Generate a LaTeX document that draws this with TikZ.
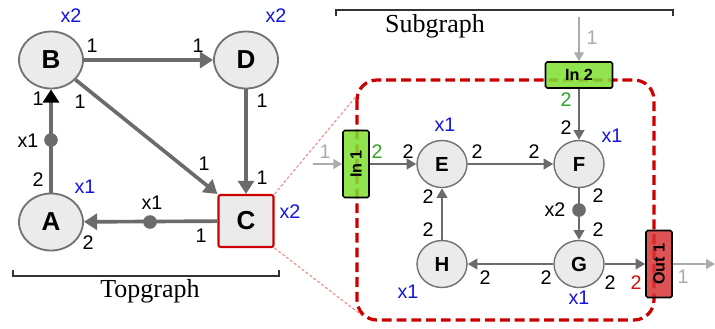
\documentclass[tikz,border=0pt]{standalone}
\usepackage{fontspec}
\setmainfont{Liberation Serif}
\setsansfont{Liberation Sans}
\usetikzlibrary{arrows.meta,shapes.geometric}
\definecolor{ink}{HTML}{000000}
\definecolor{edge}{HTML}{6B6B6B}
\definecolor{faint}{HTML}{ABABAB}
\definecolor{nodefill}{HTML}{EBEBEB}
\definecolor{nodeline}{HTML}{727272}
\definecolor{mult}{HTML}{1414E0}
\definecolor{subred}{HTML}{CC0000}
\definecolor{zoomred}{HTML}{F08C8C}
\definecolor{portgreen}{HTML}{80E030}
\definecolor{portred}{HTML}{D83434}
\definecolor{rategreen}{HTML}{2FA52A}
\definecolor{ratered}{HTML}{D01010}
\definecolor{bracket}{HTML}{333333}
\tikzset{
  top actor/.style={ellipse,draw=nodeline,line width=1.3pt,fill=nodefill,minimum width=16mm,
    minimum height=14.25mm,inner sep=0pt,font=\sffamily\bfseries\fontsize{18.5}{22}\selectfont},
  hier actor/.style={rectangle,draw=subred,line width=1.5pt,fill=nodefill,rounded corners=.5mm,
    minimum width=13.75mm,minimum height=13mm,inner sep=0pt,font=\sffamily\bfseries\fontsize{18.5}{22}\selectfont},
  sub actor/.style={ellipse,draw=nodeline,line width=1pt,fill=nodefill,minimum width=12.5mm,
    minimum height=11.75mm,inner sep=0pt,font=\sffamily\bfseries\fontsize{14.5}{17}\selectfont},
  portbox/.style={rectangle,draw=ink,line width=1.1pt,rounded corners=.4mm,minimum width=16.75mm,
    minimum height=6.5mm,inner sep=0pt,fill opacity=.85,text opacity=1,
    font=\sffamily\bfseries\fontsize{11.5}{13}\selectfont},
  top edge/.style={draw=edge,line width=2.6pt,-{Triangle[length=3.3mm,width=4mm]}},
  sub edge/.style={draw=edge,line width=1.8pt,-{Triangle[length=2.4mm,width=2.6mm]}},
  io edge/.style={draw=faint,line width=1.3pt,-{Triangle[length=2.2mm,width=2.4mm]}},
  delaydot/.style={circle,fill=edge,inner sep=0pt,minimum size=3.4mm},
  ratelabel/.style={font=\sffamily\fontsize{14}{16}\selectfont,inner sep=0pt},
  repslabel/.style={font=\sffamily\fontsize{14}{16}\selectfont,text=mult,inner sep=0pt},
  captiontext/.style={font=\fontsize{18.5}{21}\selectfont,inner sep=0pt}
}
\begin{document}
\begin{tikzpicture}[x=.25mm,y=-.25mm]
  \path[use as bounding box] (0,0) rectangle (715,328);
  \fill[white] (0,0) rectangle (715,328);

  % Topgraph actors.
  \node[top actor] (B) at (51,60) {B};
  \node[top actor] (D) at (246,60) {D};
  \node[top actor] (A) at (51,222) {A};
  \node[hier actor] (C) at (246,221) {C};

  % Zoom lines from C to the subgraph.
  \coordinate (zoomTop) at (358,94);
  \coordinate (zoomBot) at (364,317);
  \draw[zoomred,line width=.8pt,dash pattern=on 2pt off 1.5pt] (C.north east) -- (zoomTop);
  \draw[zoomred,line width=.8pt,dash pattern=on 2pt off 1.5pt] (C.south east) -- (zoomBot);

  % Topgraph channels.
  \draw[top edge] (B) -- (D);
  \draw[top edge] (D) -- (C);
  \draw[top edge] (B) -- (C.north west);
  \draw[top edge,-{Triangle[length=3.3mm,width=4mm,color=ink]}] (A) -- (B);
  \draw[top edge] (C) -- (A);
  \node[delaydot] (dAB) at (51,140) {};
  \node[delaydot] (dCA) at (150,222) {};

  % Topgraph rates and delays.
  \node[ratelabel] (rBD1) at (92,46) {1};
  \node[ratelabel] (rBD2) at (198,46) {1};
  \node[ratelabel] (rDC1) at (262,101) {1};
  \node[ratelabel] (rDC2) at (262,178) {1};
  \node[ratelabel] (rBC1) at (80,102) {1};
  \node[ratelabel] (rBC2) at (204,164) {1};
  \node[ratelabel] (rAB1) at (38,180) {2};
  \node[ratelabel] (rAB2) at (38,99) {1};
  \node[ratelabel] (rCA1) at (201,236) {1};
  \node[ratelabel] (rCA2) at (88,243) {2};
  \node[ratelabel] (xAB) at (28,141) {x1};
  \node[ratelabel] (xCA) at (152,203) {x1};

  % Topgraph repetitions.
  \node[repslabel] (qB) at (71,16) {x2};
  \node[repslabel] (qD) at (276,16) {x2};
  \node[repslabel] (qA) at (85,187) {x1};
  \node[repslabel] (qC) at (290,212) {x2};

  % Brackets and captions.
  \draw[bracket,line width=.9pt] (13,270) -- (13,276) -- (279,276) -- (279,270);
  \node[captiontext] (topcap) at (150,291) {Topgraph};
  \draw[bracket,line width=.9pt] (336,16) -- (336,10) -- (673,10) -- (673,16);
  \node[captiontext] (subcap) at (435,26) {Subgraph};

  % Subgraph frame.
  \draw[subred,line width=2.3pt,dash pattern=on 7pt off 3.5pt,rounded corners=5mm]
    (357,80) rectangle (654,320);

  % Subgraph actors and interfaces.
  \node[sub actor] (E) at (442,164) {E};
  \node[sub actor] (F) at (579,164) {F};
  \node[sub actor] (H) at (442,264) {H};
  \node[sub actor] (G) at (579,264) {G};
  \node[portbox,fill=portgreen] (in2) at (579,75) {In 2};
  \node[portbox,fill=portgreen,rotate=90] (in1) at (356,164) {In 1};
  \node[portbox,fill=portred,rotate=90] (out1) at (659,264) {Out 1};
  \coordinate (src2) at (579,17);
  \coordinate (src1) at (313,164);
  \coordinate (sink1) at (715,264);

  % Subgraph channels.
  \draw[io edge] (src2) -- (in2.north);
  \draw[io edge] (src1) -- (in1.north);
  \draw[io edge] (out1.south) -- (sink1);
  \draw[sub edge] (in2) -- (F);
  \draw[sub edge] (in1.south) -- (E);
  \draw[sub edge] (E) -- (F);
  \draw[sub edge] (F) -- (G);
  \draw[sub edge] (G) -- (H);
  \draw[sub edge] (H) -- (E);
  \draw[sub edge] (G) -- (out1.north);
  \node[delaydot] (dFG) at (579,210) {};

  % Subgraph rates and delays.
  \node[ratelabel,text=faint] (rsrc2) at (592,38) {1};
  \node[ratelabel,text=rategreen] (rin2) at (566,100) {2};
  \node[ratelabel] (rInF) at (566,128) {2};
  \node[ratelabel,text=faint] (rsrc1) at (325,152) {1};
  \node[ratelabel,text=rategreen] (rin1) at (377,152) {2};
  \node[ratelabel] (rInE) at (408,152) {2};
  \node[ratelabel] (rEF1) at (477,152) {2};
  \node[ratelabel] (rEF2) at (534,152) {2};
  \node[ratelabel] (rFG1) at (598,196) {2};
  \node[ratelabel] (rFG2) at (598,230) {2};
  \node[ratelabel] (xFG) at (555,210) {x2};
  \node[ratelabel] (rHE1) at (428,230) {2};
  \node[ratelabel] (rHE2) at (428,197) {2};
  \node[ratelabel] (rGH1) at (546,278) {2};
  \node[ratelabel] (rGH2) at (485,278) {2};
  \node[ratelabel] (rGO) at (610,283) {2};
  \node[ratelabel,text=ratered] (rout1) at (636,283) {2};
  \node[ratelabel,text=faint] (rsink1) at (683,277) {1};

  % Subgraph repetitions.
  \node[repslabel] (qE) at (445,125) {x1};
  \node[repslabel] (qF) at (612,136) {x1};
  \node[repslabel] (qH) at (408,292) {x1};
  \node[repslabel] (qG) at (579,298) {x1};
\end{tikzpicture}
\end{document}
